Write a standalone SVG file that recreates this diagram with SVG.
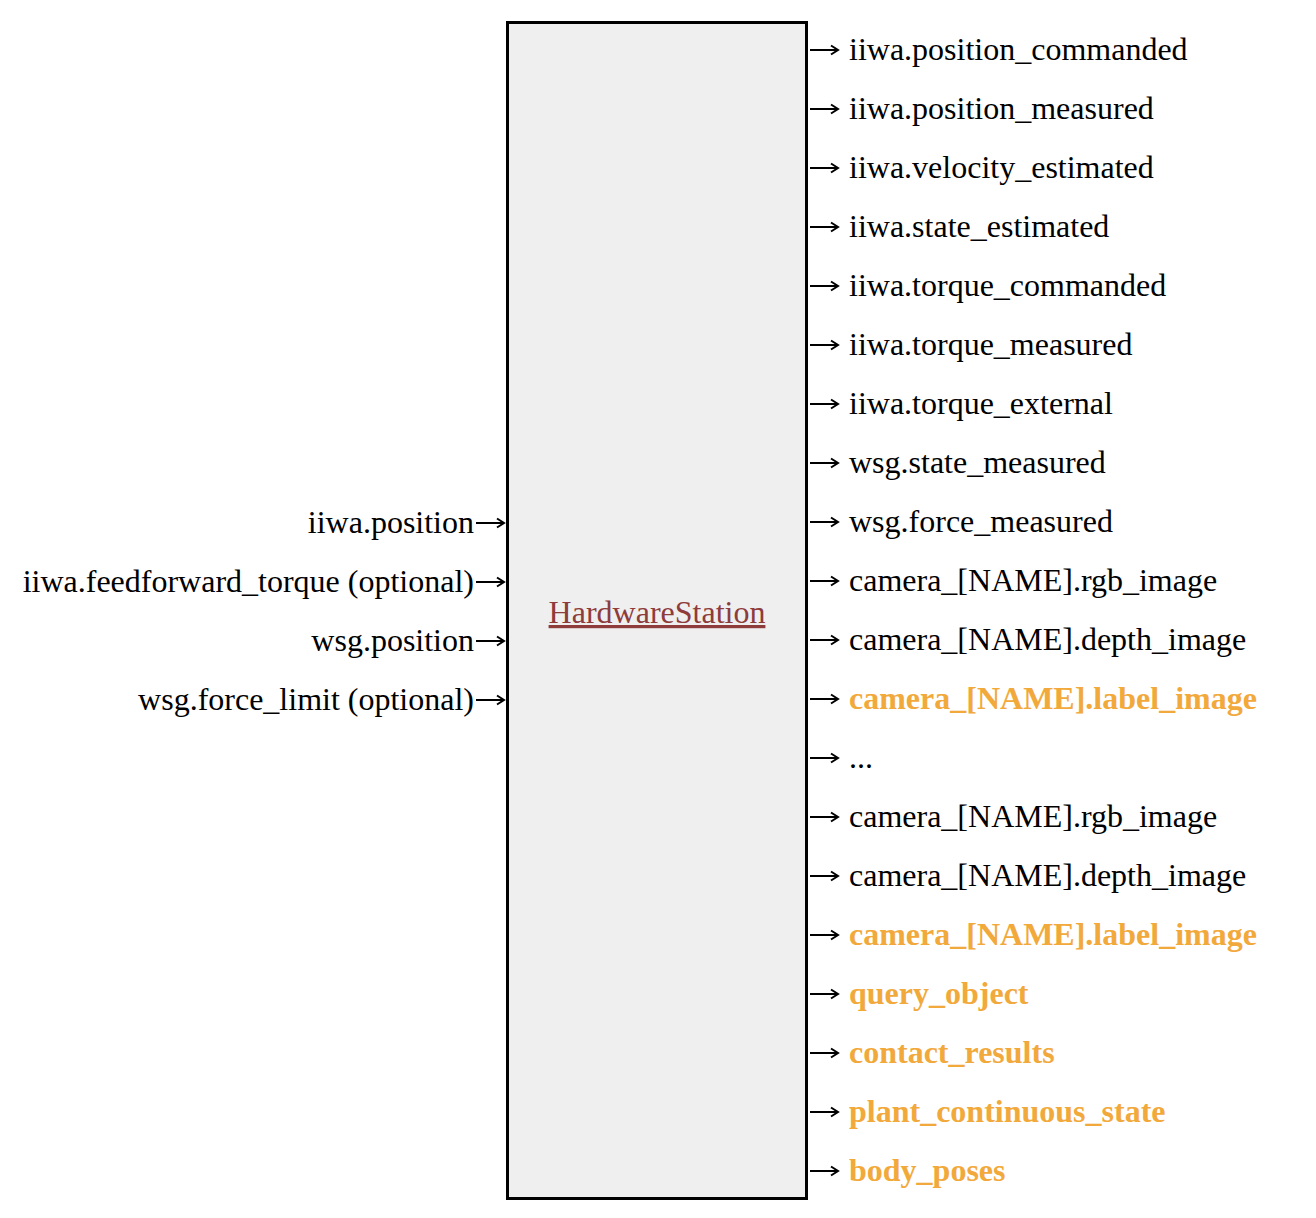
<svg xmlns="http://www.w3.org/2000/svg" width="1316" height="1218" viewBox="0 0 1316 1218">
<style>
text{font-family:"Liberation Serif","Times New Roman",serif;font-size:32px;fill:#000}
.in{text-anchor:end}
.hl{fill:#f2a93b;font-weight:bold}
.title{fill:#8e3b3b;text-anchor:middle;text-decoration:underline}
.c{stroke:#000;stroke-width:2;fill:none}
</style>
<defs>
<marker id="ah" markerWidth="12" markerHeight="12" refX="10" refY="6" orient="auto" markerUnits="userSpaceOnUse">
<path d="M3,1.5 L10,6 L3,10.5" fill="none" stroke="#000" stroke-width="2"/>
</marker>
</defs>
<rect width="1316" height="1218" fill="#fff"/>
<g id="HardwareStation">
<rect x="507.5" y="22.5" width="299" height="1176" fill="#efefef" stroke="#000" stroke-width="3"/>
<text class="title" x="657" y="623">HardwareStation</text>
</g>
<g id="inputs">
<text class="in" x="474" y="533">iiwa.position</text>
<text class="in" x="474" y="592">iiwa.feedforward_torque (optional)</text>
<text class="in" x="474" y="651">wsg.position</text>
<text class="in" x="474" y="710">wsg.force_limit (optional)</text>
</g>
<g id="outputs">
<text x="849" y="60">iiwa.position_commanded</text>
<text x="849" y="119">iiwa.position_measured</text>
<text x="849" y="178">iiwa.velocity_estimated</text>
<text x="849" y="237">iiwa.state_estimated</text>
<text x="849" y="296">iiwa.torque_commanded</text>
<text x="849" y="355">iiwa.torque_measured</text>
<text x="849" y="414">iiwa.torque_external</text>
<text x="849" y="473">wsg.state_measured</text>
<text x="849" y="532">wsg.force_measured</text>
<text x="849" y="591">camera_[NAME].rgb_image</text>
<text x="849" y="650">camera_[NAME].depth_image</text>
<text class="hl" x="849" y="709">camera_[NAME].label_image</text>
<text x="849" y="768">...</text>
<text x="849" y="827">camera_[NAME].rgb_image</text>
<text x="849" y="886">camera_[NAME].depth_image</text>
<text class="hl" x="849" y="945">camera_[NAME].label_image</text>
<text class="hl" x="849" y="1004">query_object</text>
<text class="hl" x="849" y="1063">contact_results</text>
<text class="hl" x="849" y="1122">plant_continuous_state</text>
<text class="hl" x="849" y="1181">body_poses</text>
</g>
<g id="connectors" class="c">
<path d="M476,523H504" marker-end="url(#ah)"/>
<path d="M476,582H504" marker-end="url(#ah)"/>
<path d="M476,641H504" marker-end="url(#ah)"/>
<path d="M476,700H504" marker-end="url(#ah)"/>
<path d="M810,50H838" marker-end="url(#ah)"/>
<path d="M810,109H838" marker-end="url(#ah)"/>
<path d="M810,168H838" marker-end="url(#ah)"/>
<path d="M810,227H838" marker-end="url(#ah)"/>
<path d="M810,286H838" marker-end="url(#ah)"/>
<path d="M810,345H838" marker-end="url(#ah)"/>
<path d="M810,404H838" marker-end="url(#ah)"/>
<path d="M810,463H838" marker-end="url(#ah)"/>
<path d="M810,522H838" marker-end="url(#ah)"/>
<path d="M810,581H838" marker-end="url(#ah)"/>
<path d="M810,640H838" marker-end="url(#ah)"/>
<path d="M810,699H838" marker-end="url(#ah)"/>
<path d="M810,758H838" marker-end="url(#ah)"/>
<path d="M810,817H838" marker-end="url(#ah)"/>
<path d="M810,876H838" marker-end="url(#ah)"/>
<path d="M810,935H838" marker-end="url(#ah)"/>
<path d="M810,994H838" marker-end="url(#ah)"/>
<path d="M810,1053H838" marker-end="url(#ah)"/>
<path d="M810,1112H838" marker-end="url(#ah)"/>
<path d="M810,1171H838" marker-end="url(#ah)"/>
</g>
</svg>
